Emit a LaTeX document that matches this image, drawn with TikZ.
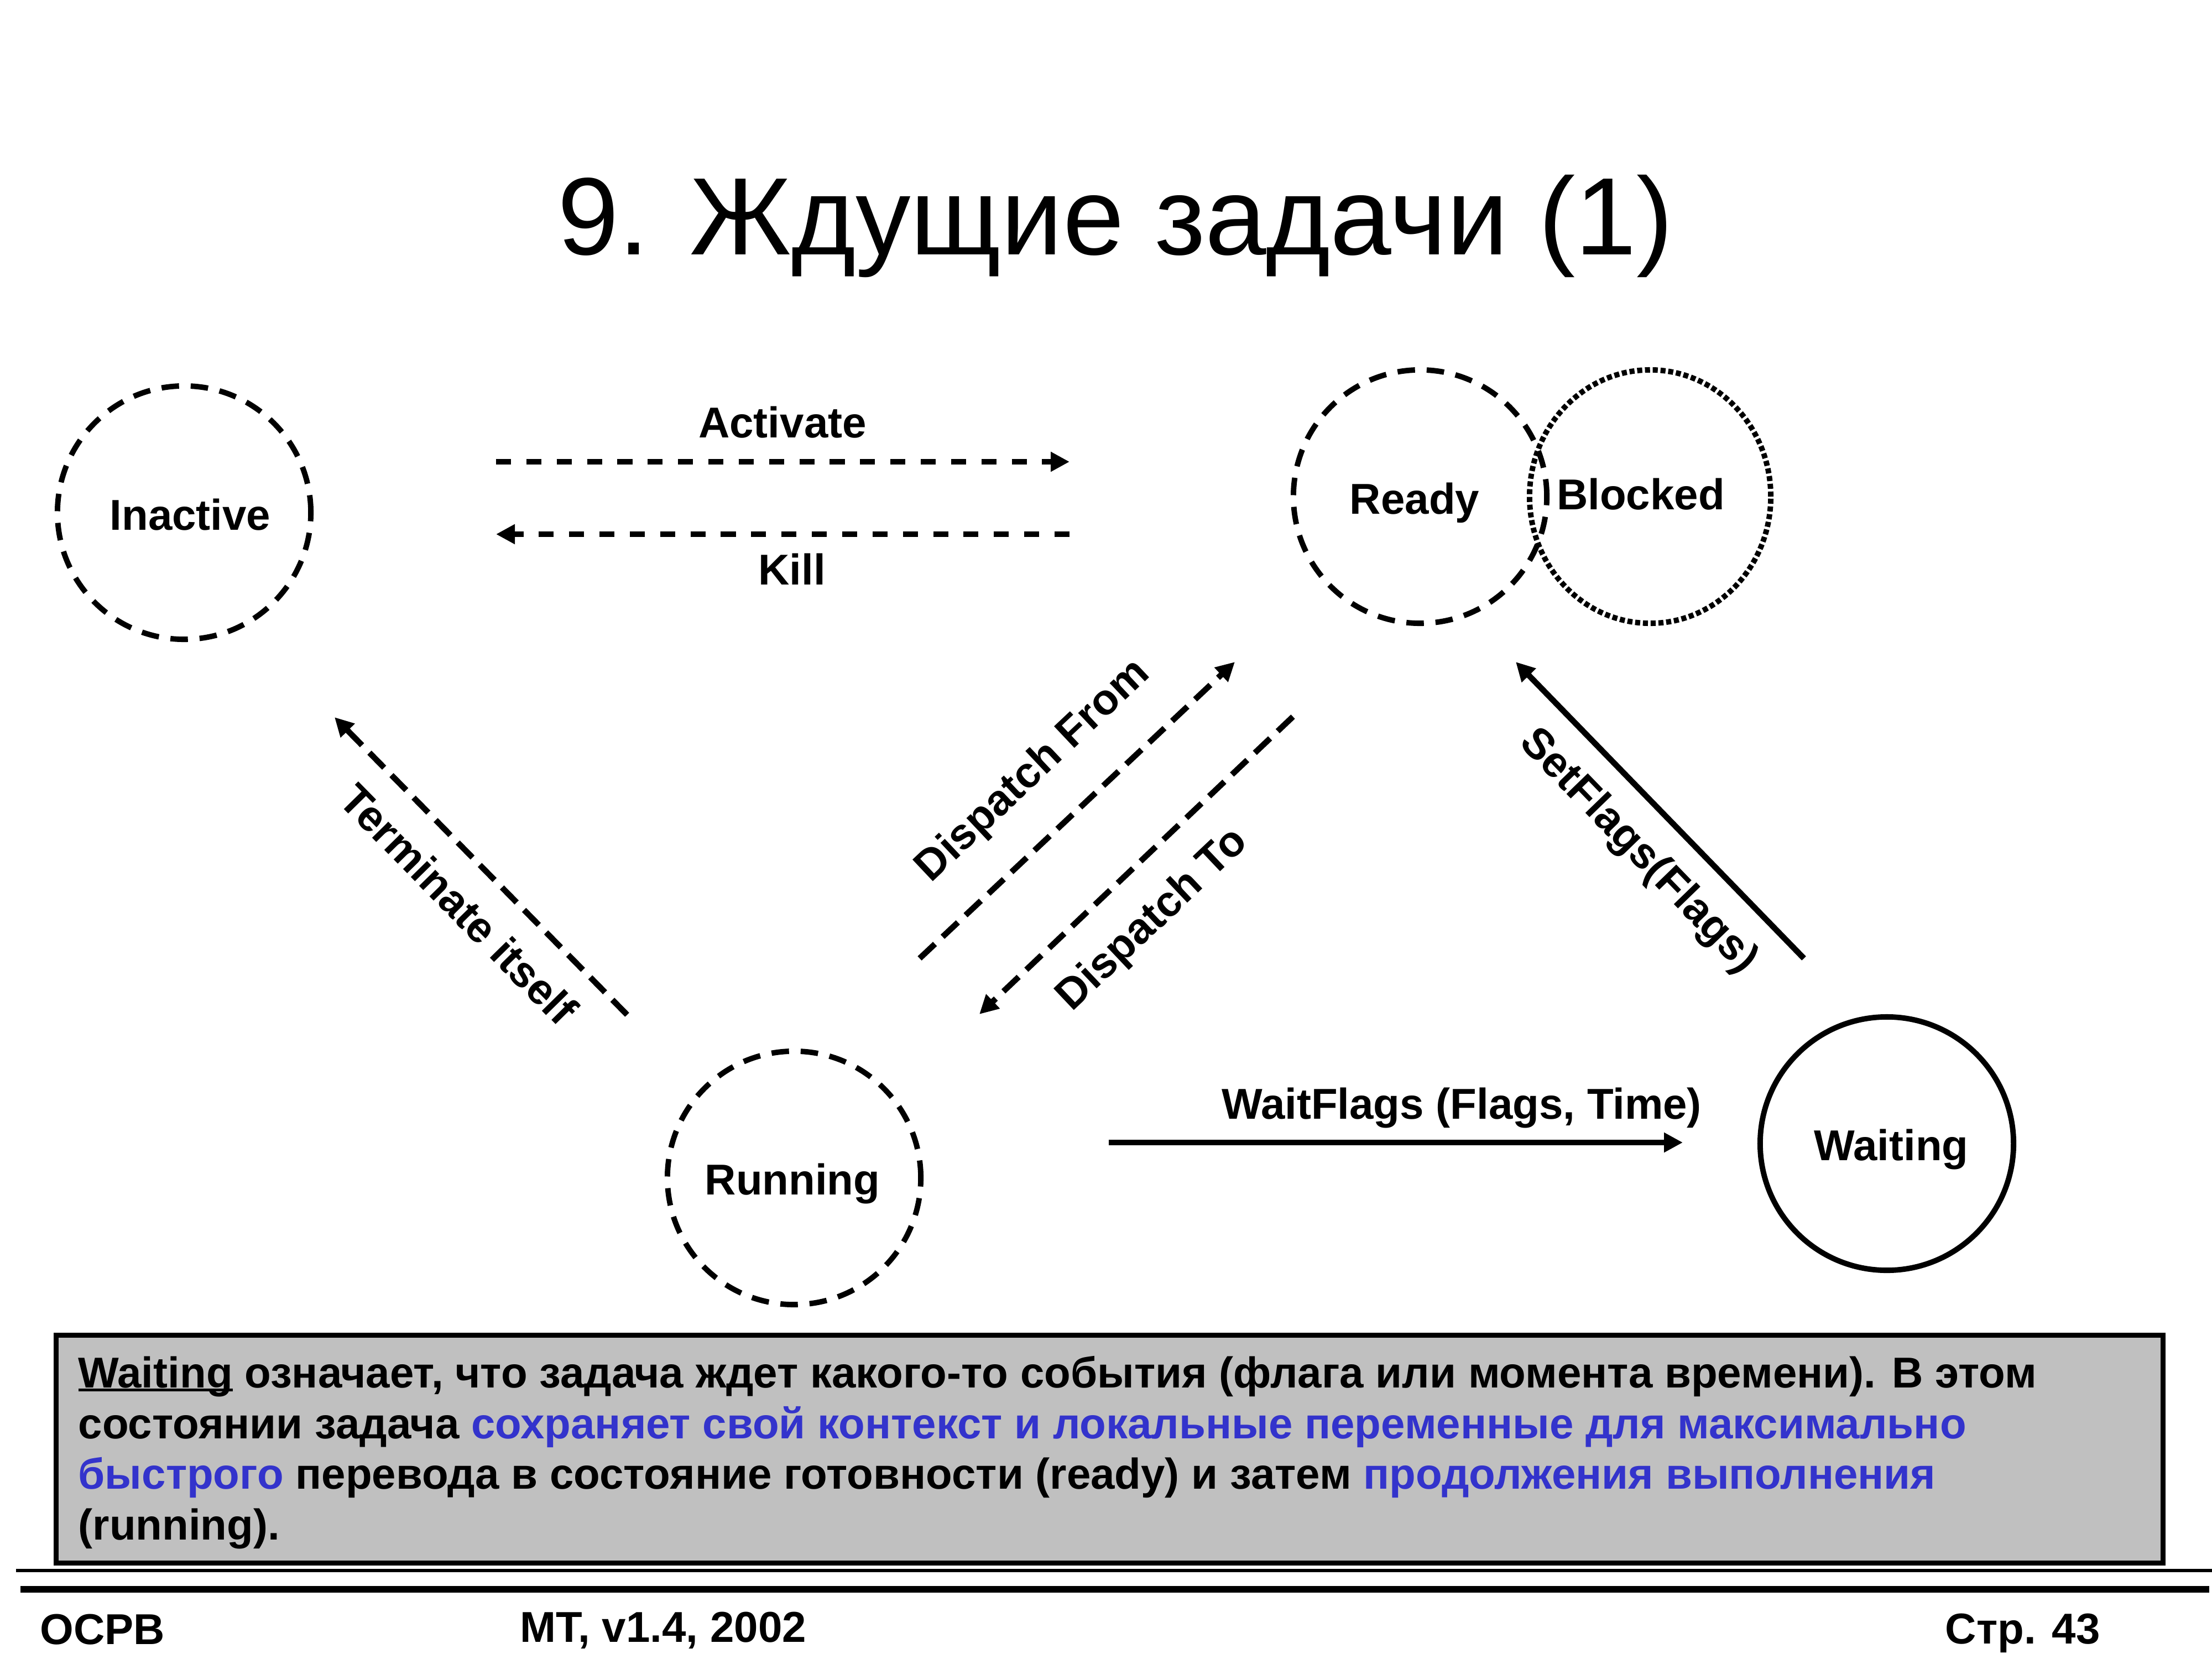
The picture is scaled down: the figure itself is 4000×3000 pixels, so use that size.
\documentclass[tikz,border=0pt]{standalone}
\usepackage{fontspec}
\setmainfont{Liberation Sans}
\usetikzlibrary{arrows.meta,shapes.geometric}
\definecolor{tblue}{RGB}{51,51,204}
\definecolor{boxgray}{RGB}{192,192,192}
\newcommand\myul[1]{\setbox0\hbox{#1}\rlap{\rule[-0.07cm]{\wd0}{0.05cm}}#1}
\begin{document}
\begin{tikzpicture}[x=0.01cm,y=-0.01cm,
  state/.style={circle,draw,line width=2.8pt,minimum size=4.58cm,inner sep=0pt},
  dashstate/.style={state,dash pattern=on 9pt off 6pt},
  lbl/.style={font=\fontsize{22.2}{26}\selectfont\bfseries,inner sep=0pt},
  boxtxt/.style={font=\fontsize{22.2}{26}\selectfont\bfseries,inner sep=0pt,anchor=base west},
  foot/.style={font=\fontsize{22.2}{26}\selectfont\bfseries,inner sep=0pt,anchor=base west},
  conn/.style={line width=3pt,-{Triangle[length=0.34cm,width=0.34cm]}},
  sqdash/.style={dash pattern=on 7.7pt off 7.9pt},
  lgdash/.style={dash pattern=on 10.8pt off 5.4pt}]
\fill[white] (0,0) rectangle (4000,3000);
\useasboundingbox (0,0) rectangle (4000,3000);
% title
\node[font=\fontsize{56.6}{68}\selectfont,anchor=base,inner sep=0pt] (title) at (2017,460) {9. Ждущие задачи (1)};
% states
\node[dashstate] (inactive) at (333,927) {};
\node[dashstate] (ready) at (2568,898) {};
\node[ellipse,draw,line width=2.8pt,minimum width=4.36cm,minimum height=4.58cm,inner sep=0pt,dash pattern=on 2.6pt off 1.4pt] (blocked) at (2984,898) {};
\node[dashstate] (running) at (1436,2130) {};
\node[state] (waiting) at (3412,2068) {};
% state labels
\node[lbl,anchor=base] (inactive-t) at (344,958) {Inactive};
\node[lbl,anchor=base] (ready-t) at (2558,929) {Ready};
\node[lbl,anchor=base] (blocked-t) at (2967,921) {Blocked};
\node[lbl,anchor=base] (running-t) at (1433,2160) {Running};
\node[lbl,anchor=base] (waiting-t) at (3420,2098) {Waiting};
% connector end points
\coordinate (act-a) at (897,835);
\coordinate (act-b) at (1934,835);
\coordinate (kill-a) at (1934,966);
\coordinate (kill-b) at (897,966);
\coordinate (wf-a) at (2005,2066);
\coordinate (wf-b) at (3043,2066);
\coordinate (term-a) at (1134,1835);
\coordinate (term-b) at (605,1297);
\coordinate (df-a) at (1663,1733);
\coordinate (df-b) at (2233,1197);
\coordinate (dt-a) at (2338,1296);
\coordinate (dt-b) at (1771,1834);
\coordinate (sf-a) at (3262,1733);
\coordinate (sf-b) at (2741,1197);
% connectors
\draw[conn,sqdash] (act-a) -- (act-b);
\draw[conn,sqdash] (kill-a) -- (kill-b);
\draw[conn] (wf-a) -- (wf-b);
\draw[conn,lgdash] (term-a) -- (term-b);
\draw[conn,lgdash] (df-a) -- (df-b);
\draw[conn,lgdash] (dt-a) -- (dt-b);
\draw[conn] (sf-a) -- (sf-b);
% connector labels
\node[lbl,anchor=base] (act-t) at (1415,791) {Activate};
\node[lbl,anchor=base] (kill-t) at (1432,1057) {Kill};
\node[lbl,anchor=base] (wf-t) at (2643,2023) {WaitFlags (Flags, Time)};
\node[lbl,rotate=-45.5] (term-t) at (830,1635) {Terminate itself};
\node[lbl,rotate=43.3] (df-t) at (1869,1395) {Dispatch From};
\node[lbl,rotate=43.4] (dt-t) at (2085,1664) {Dispatch To};
\node[lbl,rotate=-45.9] (sf-t) at (2962,1540) {SetFlags(Flags)};
% note box
\draw[fill=boxgray,line width=2.56pt] (101.5,2414.5) rectangle (3911.5,2826.5);
\node[boxtxt] (l1) at (141,2509) {\myul{Waiting} означает, что задача ждет какого-то события (флага или момента времени). В этом};
\node[boxtxt] (l2) at (141,2601) {состоянии задача \textcolor{tblue}{сохраняет свой контекст и локальные переменные для максимально}};
\node[boxtxt] (l3) at (141,2692) {\textcolor{tblue}{быстрого} перевода в состояние готовности (ready) и затем \textcolor{tblue}{продолжения выполнения}};
\node[boxtxt] (l4) at (141,2784) {(running).};
% footer
\draw[line width=1.7pt] (29,2840) -- (4000,2840);
\draw[line width=3.4pt] (37,2874) -- (3995,2874);
\node[foot] (f1) at (72,2973) {ОСРВ};
\node[foot] (f2) at (940,2969) {МТ, v1.4, 2002};
\node[foot] (f3) at (3517,2972) {Стр. 43};
\end{tikzpicture}
\end{document}
